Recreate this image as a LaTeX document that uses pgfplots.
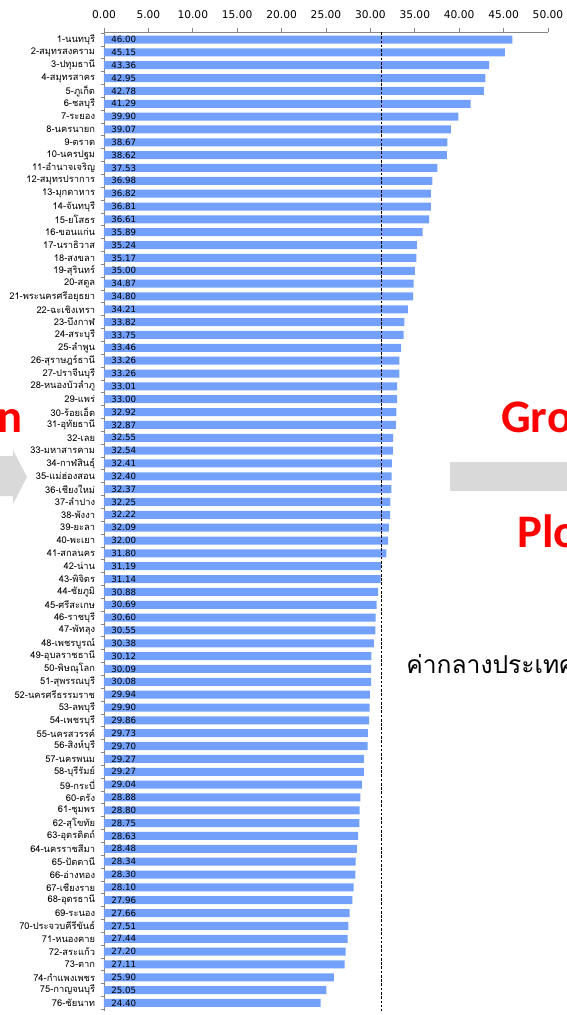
\documentclass[border=0pt]{standalone}
\usepackage{fontspec}
\setmainfont{DejaVu Sans}
\newfontfamily\thaifont[Script=Thai]{Loma}
\newfontfamily\calibri{Carlito}
\usepackage{pgfplots}
\usepackage{pgfplotstable}
\pgfplotsset{compat=1.18}
\definecolor{barblue}{RGB}{115,160,250}
\definecolor{axisgray}{RGB}{134,134,134}
\definecolor{slidegray}{RGB}{217,217,217}
\definecolor{slidered}{RGB}{255,0,0}

\pgfplotstableread{
idx val name
1 46.00 1-นนทบุรี
2 45.15 2-สมุทรสงคราม
3 43.36 3-ปทุมธานี
4 42.95 4-สมุทรสาคร
5 42.78 5-ภูเก็ต
6 41.29 6-ชลบุรี
7 39.90 7-ระยอง
8 39.07 8-นครนายก
9 38.67 9-ตราด
10 38.62 10-นครปฐม
11 37.53 11-อำนาจเจริญ
12 36.98 12-สมุทรปราการ
13 36.82 13-มุกดาหาร
14 36.81 14-จันทบุรี
15 36.61 15-ยโสธร
16 35.89 16-ขอนแก่น
17 35.24 17-นราธิวาส
18 35.17 18-สงขลา
19 35.00 19-สุรินทร์
20 34.87 20-สตูล
21 34.80 21-พระนครศรีอยุธยา
22 34.21 22-ฉะเชิงเทรา
23 33.82 23-บึงกาฬ
24 33.75 24-สระบุรี
25 33.46 25-ลำพูน
26 33.26 26-สุราษฎร์ธานี
27 33.26 27-ปราจีนบุรี
28 33.01 28-หนองบัวลำภู
29 33.00 29-แพร่
30 32.92 30-ร้อยเอ็ด
31 32.87 31-อุทัยธานี
32 32.55 32-เลย
33 32.54 33-มหาสารคาม
34 32.41 34-กาฬสินธุ์
35 32.40 35-แม่ฮ่องสอน
36 32.37 36-เชียงใหม่
37 32.25 37-ลำปาง
38 32.22 38-พังงา
39 32.09 39-ยะลา
40 32.00 40-พะเยา
41 31.80 41-สกลนคร
42 31.19 42-น่าน
43 31.14 43-พิจิตร
44 30.88 44-ชัยภูมิ
45 30.69 45-ศรีสะเกษ
46 30.60 46-ราชบุรี
47 30.55 47-พัทลุง
48 30.38 48-เพชรบูรณ์
49 30.12 49-อุบลราชธานี
50 30.09 50-พิษณุโลก
51 30.08 51-สุพรรณบุรี
52 29.94 52-นครศรีธรรมราช
53 29.90 53-ลพบุรี
54 29.86 54-เพชรบุรี
55 29.73 55-นครสวรรค์
56 29.70 56-สิงห์บุรี
57 29.27 57-นครพนม
58 29.27 58-บุรีรัมย์
59 29.04 59-กระบี่
60 28.88 60-ตรัง
61 28.80 61-ชุมพร
62 28.75 62-สุโขทัย
63 28.63 63-อุตรดิตถ์
64 28.48 64-นครราชสีมา
65 28.34 65-ปัตตานี
66 28.30 66-อ่างทอง
67 28.10 67-เชียงราย
68 27.96 68-อุดรธานี
69 27.66 69-ระนอง
70 27.51 70-ประจวบคีรีขันธ์
71 27.44 71-หนองคาย
72 27.20 72-สระแก้ว
73 27.11 73-ตาก
74 25.90 74-กำแพงเพชร
75 25.05 75-กาญจนบุรี
76 24.40 76-ชัยนาท
}\provdata

\begin{document}
\begin{tikzpicture}
\useasboundingbox (0,0) rectangle (425.25pt,-761.25pt);
\clip (0,0) rectangle (425.25pt,-761.25pt);
\fill[white] (0,0) rectangle (425.25pt,-761.25pt);

% slide decorations (cut off in the reference)
\begin{scope}[x=0.75pt,y=-0.75pt]
\fill[slidegray] (0,456) -- (13,456) -- (13,450) -- (27,477) -- (13,504) -- (13,496) -- (0,496) -- cycle;
\fill[slidegray] (450,462) rectangle (570,491);
\node[anchor=base east, inner sep=0pt, text=slidered, font=\calibri\bfseries\fontsize{35}{40}\selectfont] at (23,432) {n};
\node[anchor=base west, inner sep=0pt, text=slidered, font=\calibri\bfseries\fontsize{35}{40}\selectfont] at (501,432) {Gro};
\node[anchor=base west, inner sep=0pt, text=slidered, font=\calibri\bfseries\fontsize{35}{40}\selectfont] at (517,547) {Plo};
\node[anchor=base west, inner sep=0pt, font=\thaifont\fontsize{18.5}{22}\selectfont] at (406,673) {ค่ากลางประเทศ};
\end{scope}

\begin{axis}[
  at={(78pt,-24pt)}, anchor=north west,
  scale only axis, width=333pt, height=734pt,
  xbar, bar width=6pt, bar shift=0pt,
  xmin=0, xmax=50, ymin=0.416, ymax=76.6, y dir=reverse,
  axis x line*=top, axis y line*=left,
  axis line style={axisgray, line width=0.6pt},
  xtick={0,5,...,50},
  xticklabels={0.00,5.00,10.00,15.00,20.00,25.00,30.00,35.00,40.00,45.00,50.00},
  xticklabel style={font=\fontsize{8}{9}\selectfont, yshift=3.5pt},
  ytick={1,...,76},
  yticklabels from table={\provdata}{name},
  yticklabel style={font=\thaifont\fontsize{7}{8}\selectfont, inner sep=0pt, xshift=-3.5pt},
  minor ytick={0.5,1.5,...,76.5},
  tick align=outside,
  major tick length=3pt, minor tick length=2.5pt,
  major x tick style={axisgray, line width=0.6pt},
  major y tick style={draw=none},
  minor y tick style={axisgray, line width=0.6pt},
  enlargelimits=false,
  clip=false,
]
\addplot[fill=barblue, draw=none] table[x=val, y=idx]{\provdata};
\addplot[draw=none, fill=none, nodes near coords, point meta=explicit symbolic,
  nodes near coords style={anchor=west, inner sep=0pt, xshift=5.25pt, font=\fontsize{6.5}{7}\selectfont, text=black}]
  table[x expr=0, y=idx, meta=val]{\provdata};
\draw[black, line width=0.7pt, dash pattern=on 2pt off 1.2pt] (axis cs:31.3,0.416) -- (axis cs:31.3,76.6);
\end{axis}
\end{tikzpicture}
\end{document}
